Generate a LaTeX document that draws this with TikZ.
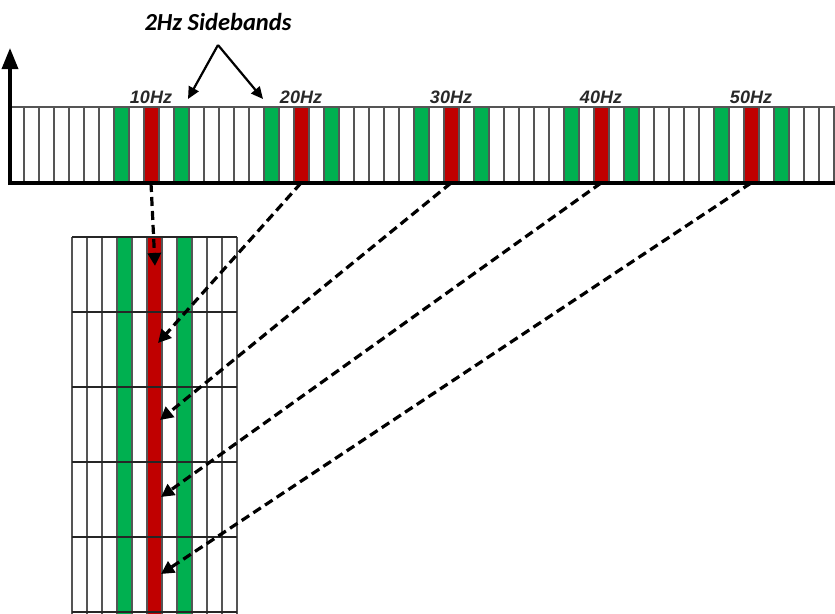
\documentclass[tikz,border=0pt]{standalone}
\usepackage{fontspec}
\setmainfont{Liberation Sans}
\newfontfamily\calfont{Carlito}
\usepackage{tikz}
\usetikzlibrary{calc,arrows.meta}

\definecolor{bandgreen}{RGB}{0,176,80}
\definecolor{bandred}{RGB}{192,0,0}
\definecolor{cellgray}{RGB}{85,85,85}
\definecolor{labgray}{RGB}{40,40,40}

\begin{document}
\begin{tikzpicture}[
  x=1pt,
  y=-1pt,
]

  \tikzstyle{cell}=[draw=cellgray,line width=1.8pt]
  \tikzstyle{greencell}=[fill=bandgreen]
  \tikzstyle{redcell}=[fill=bandred]
  \tikzstyle{rowline}=[draw=black!85,line width=2.2pt]
  \tikzstyle{axisline}=[draw=black,line width=3.4pt]

  \tikzstyle{freqlab}=[font=\fontsize{18}{21}\selectfont\bfseries\itshape,text=labgray,anchor=base,inner sep=0pt]
  \tikzstyle{bandlab}=[font=\calfont\fontsize{24.5}{28}\selectfont\bfseries\itshape,inner sep=0pt]

  \tikzstyle{axisptr}=[draw,line width=3.4pt,-{Triangle[length=21pt,width=16pt]}]
  \tikzstyle{bandptr}=[draw,line width=2.2pt,-{Triangle[length=12pt,width=11pt]}]
  \tikzstyle{zoomptr}=[draw,line width=3.2pt,dash pattern=on 9pt off 5pt,-{Triangle[length=13pt,width=13pt]}]

  \useasboundingbox (0,0) rectangle (835,613);

  % spectrum strip
  \foreach \i in {7,11,17,21,27,31,37,41,47,51}
    \fill[greencell] ({9+15*\i},107) rectangle ++(15,76);
  \foreach \i in {9,19,29,39,49}
    \fill[redcell] ({9+15*\i},107) rectangle ++(15,76);
  \foreach \i in {0,...,54}
    \draw[cell] ({9+15*\i},107) rectangle ++(15,76);
  \draw[axisline] (9,183) -- (835,183);

  % zoomed grid
  \fill[greencell] (117,237) rectangle (132,620);
  \fill[redcell]   (147,237) rectangle (162,620);
  \fill[greencell] (177,237) rectangle (192,620);
  \foreach \i in {0,...,11}
    \draw[cell] ({72+15*\i},237) -- ({72+15*\i},620);
  \foreach \j in {0,...,5}
    \draw[rowline] (72,{237+75*\j}) -- (237,{237+75*\j});

  % nodes
  \coordinate (origin) at (10,185);
  \coordinate (ytop) at (10,48);

  \node[bandlab] (sb) at (218,22) {2Hz Sidebands};
  \coordinate (sbfork) at (218,45);
  \coordinate (sbleft) at (188,99);
  \coordinate (sbright) at (263,99);

  \node[freqlab] (f10) at (151,103) {10Hz};
  \node[freqlab] (f20) at (301,103) {20Hz};
  \node[freqlab] (f30) at (451,103) {30Hz};
  \node[freqlab] (f40) at (601,103) {40Hz};
  \node[freqlab] (f50) at (751,103) {50Hz};

  \coordinate (r10) at (151,183);
  \coordinate (r20) at (301,183);
  \coordinate (r30) at (451,183);
  \coordinate (r40) at (601,183);
  \coordinate (r50) at (751,183);

  \coordinate (t1) at (155,266);
  \coordinate (t2) at (158,343);
  \coordinate (t3) at (160,420);
  \coordinate (t4) at (161,497);
  \coordinate (t5) at (161,574);

  % pointers
  \draw[axisptr] (origin) -- (ytop);

  \draw[bandptr] (sbfork) -- (sbleft);
  \draw[bandptr] (sbfork) -- (sbright);

  \draw[zoomptr] (r10) -- (t1);
  \draw[zoomptr] (r20) -- (t2);
  \draw[zoomptr] (r30) -- (t3);
  \draw[zoomptr] (r40) -- (t4);
  \draw[zoomptr] (r50) -- (t5);

\end{tikzpicture}
\end{document}
